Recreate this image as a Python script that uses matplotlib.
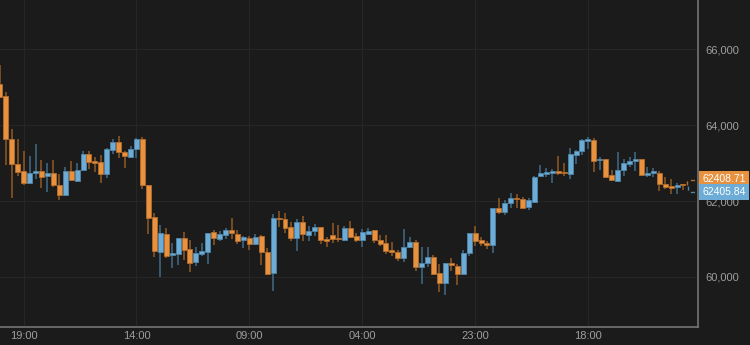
import numpy as np
import matplotlib.pyplot as plt

plt.rcParams['font.family'] = ['Liberation Sans', 'DejaVu Sans']

# hourly candles, oldest first
opens = [65071, 64755, 63632, 62966, 62797, 62466, 62729, 62782, 62658, 62745,
         62429, 62166, 62782, 62534, 62808, 63229, 63034, 63018, 62711, 63350,
         63561, 63290, 63150, 63361, 63640, 62413, 61571, 60666, 61139, 60571,
         60613, 61026, 60729, 60387, 60597, 60658, 61176, 61008, 61113, 61245,
         61139, 60982, 61026, 60861, 61079, 60650, 60113, 61553, 61534, 61316,
         61018, 61439, 61105, 61211, 61308, 61008, 61097, 61026, 60982, 61282,
         61087, 60974, 61139, 61229, 60982, 60887, 60703, 60666, 60492, 60789,
         60929, 60263, 60376, 60518, 60097, 59842, 60350, 60297, 60087, 60639,
         61158, 60966, 60903, 60842, 61808, 61718, 61955, 62079, 62061, 61834,
         61982, 62658, 62718, 62737, 62789, 62763, 62718, 63218, 63316, 63579,
         63597, 63071, 63113, 62676, 62534, 62816, 62974, 63053, 63097, 62692,
         62737, 62745, 62447, 62395, 62376, 62413]
highs = [65579, 64876, 63895, 63632, 63316, 63184, 63492, 63079, 63008, 63079,
         62703, 62887, 63053, 62992, 63324, 63316, 63166, 63203, 63387, 63632,
         63711, 63324, 63440, 63650, 63692, 62420, 61692, 61361, 61289, 60887,
         61034, 61192, 60974, 60797, 60887, 61170, 61237, 61218, 61282, 61561,
         61237, 61079, 61079, 61132, 61105, 60771, 61666, 61729, 61676, 61439,
         61518, 61597, 61342, 61387, 61310, 61053, 61421, 61368, 61342, 61474,
         61150, 61255, 61282, 61237, 61105, 61105, 60921, 60711, 61255, 61053,
         60974, 60797, 60782, 60587, 60342, 60361, 60492, 60342, 60718, 61166,
         61334, 61053, 60955, 61810, 62071, 62018, 62211, 62192, 62113, 62071,
         62658, 62947, 62861, 62834, 63184, 63008, 63387, 63342, 63632, 63692,
         63650, 63166, 63115, 62816, 63282, 63097, 63150, 63282, 63100, 62887,
         62861, 62789, 62640, 62579, 62466, 62450]
lows = [64711, 62947, 62087, 62666, 62421, 62460, 62579, 62350, 62229, 62376,
        62018, 62139, 62534, 62508, 62789, 62850, 62771, 62466, 62597, 63245,
        63139, 62876, 63132, 63124, 62308, 61124, 60518, 60008, 60492, 60229,
        60316, 60447, 60124, 60289, 60553, 60342, 60842, 60947, 61008, 60992,
        60861, 60755, 60703, 60842, 60316, 60053, 59632, 61308, 61166, 60955,
        60684, 60947, 60947, 61079, 60868, 60797, 60903, 60929, 60947, 61034,
        60921, 60797, 61105, 60903, 60824, 60605, 60553, 60429, 60403, 60755,
        60166, 59816, 60271, 60053, 59605, 59526, 60166, 59782, 60071, 60553,
        60808, 60808, 60745, 60624, 61658, 61624, 61824, 61808, 61808, 61763,
        61940, 62640, 62640, 62466, 62676, 62658, 62579, 62974, 63203, 63361,
        62771, 62816, 62613, 62518, 62508, 62658, 62903, 62789, 62684, 62624,
        62624, 62263, 62308, 62184, 62184, 62300]
closes = [64745, 63632, 62974, 62771, 62474, 62729, 62782, 62632, 62745, 62413,
          62166, 62782, 62553, 62816, 63237, 63026, 63000, 62711, 63368, 63561,
          63282, 63184, 63361, 63640, 62421, 61561, 60684, 61158, 60545, 60624,
          61026, 60711, 60376, 60632, 60676, 61166, 61018, 61124, 61229, 61150,
          60955, 61045, 60868, 61061, 60650, 60079, 61553, 61518, 61297, 61018,
          61439, 61124, 61218, 61308, 60974, 60939, 61008, 60992, 61282, 61061,
          60974, 61176, 61218, 60974, 60876, 60684, 60658, 60508, 60789, 60929,
          60271, 60376, 60518, 60087, 59842, 60361, 60316, 60087, 60632, 61158,
          60955, 60887, 60834, 61808, 61718, 61940, 62071, 62045, 61816, 62026,
          62640, 62729, 62755, 62782, 62745, 62729, 63229, 63324, 63597, 63605,
          63061, 63113, 62632, 62561, 62816, 63008, 63061, 63097, 62692, 62729,
          62771, 62439, 62376, 62342, 62413, 62408.71]

time_labels = ['19:00', '14:00', '09:00', '04:00', '23:00', '18:00']
time_ticks = [4, 23, 42, 61, 80, 99]
price_ticks = [60000, 62000, 64000, 66000]
last_price = 62408.71
bid_price = 62405.84

BG = '#1b1b1b'
UP = '#6cacd6'
UP_EDGE = '#4f86a8'
UP_WICK = '#3d6580'
DOWN = '#e8913f'
DOWN_EDGE = '#b56d2c'
DOWN_WICK = '#8a5524'

o = np.array(opens, dtype=float)
h = np.array(highs, dtype=float)
l = np.array(lows, dtype=float)
c = np.array(closes, dtype=float)
x = np.arange(len(o))
up = c >= o

fig = plt.figure(figsize=(7.5, 3.45), dpi=100, facecolor=BG)
ax = fig.add_axes([0, 18 / 345, 698 / 750, 327 / 345])
ax.set_facecolor(BG)

# wicks then bodies
ax.vlines(x[up], l[up], h[up], color=UP_WICK, linewidth=1.2, zorder=2)
ax.vlines(x[~up], l[~up], h[~up], color=DOWN_WICK, linewidth=1.2, zorder=2)
body = np.maximum(np.abs(c - o), 45)
bottom = np.minimum(o, c)
ax.bar(x[up], body[up], bottom=bottom[up], width=0.84, color=UP,
       edgecolor=UP_EDGE, linewidth=0.6, zorder=3)
ax.bar(x[~up], body[~up], bottom=bottom[~up], width=0.84, color=DOWN,
       edgecolor=DOWN_EDGE, linewidth=0.6, zorder=3)

ax.set_xlim(0.02, 117.53)
ax.set_ylim(58684, 67290)

ax.yaxis.tick_right()
ax.set_yticks(price_ticks)
ax.set_yticklabels(['{:,}'.format(p) for p in price_ticks])
ax.set_xticks(time_ticks)
ax.set_xticklabels(time_labels)
ax.tick_params(axis='both', length=0, colors='#9e9e9e', labelsize=8)
ax.tick_params(axis='y', pad=5)
ax.tick_params(axis='x', pad=3)
ax.grid(True, color='#262626', linewidth=0.8, zorder=0)

for s in ['left', 'top']:
    ax.spines[s].set_visible(False)
for s in ['right', 'bottom']:
    ax.spines[s].set_color('#747474')
    ax.spines[s].set_linewidth(1.2)

# bracket from current candle to the price tags
tag_off = 150
ax.plot([115.7, 115.7, 117.5], [last_price, last_price + tag_off, last_price + tag_off],
        ls=(0, (3, 3)), color=DOWN_EDGE, lw=1, clip_on=False, zorder=4)
ax.plot([115.9, 115.9, 117.5], [bid_price, bid_price - 170, bid_price - 170],
        ls=(0, (3, 3)), color=UP_EDGE, lw=1, clip_on=False, zorder=4)

# price tags on the axis
ax.text(1.006, last_price + 175, '{:.2f}'.format(last_price), transform=ax.get_yaxis_transform(),
        ha='left', va='center', fontsize=7.5, color='white', zorder=6,
        bbox=dict(boxstyle='square,pad=0.3', fc=DOWN, ec='none'), clip_on=False)
ax.text(1.006, bid_price - 170, '{:.2f}'.format(bid_price), transform=ax.get_yaxis_transform(),
        ha='left', va='center', fontsize=7.5, color='white', zorder=6,
        bbox=dict(boxstyle='square,pad=0.3', fc=UP, ec='none'), clip_on=False)

plt.savefig('out.png', dpi=100, facecolor=BG)
